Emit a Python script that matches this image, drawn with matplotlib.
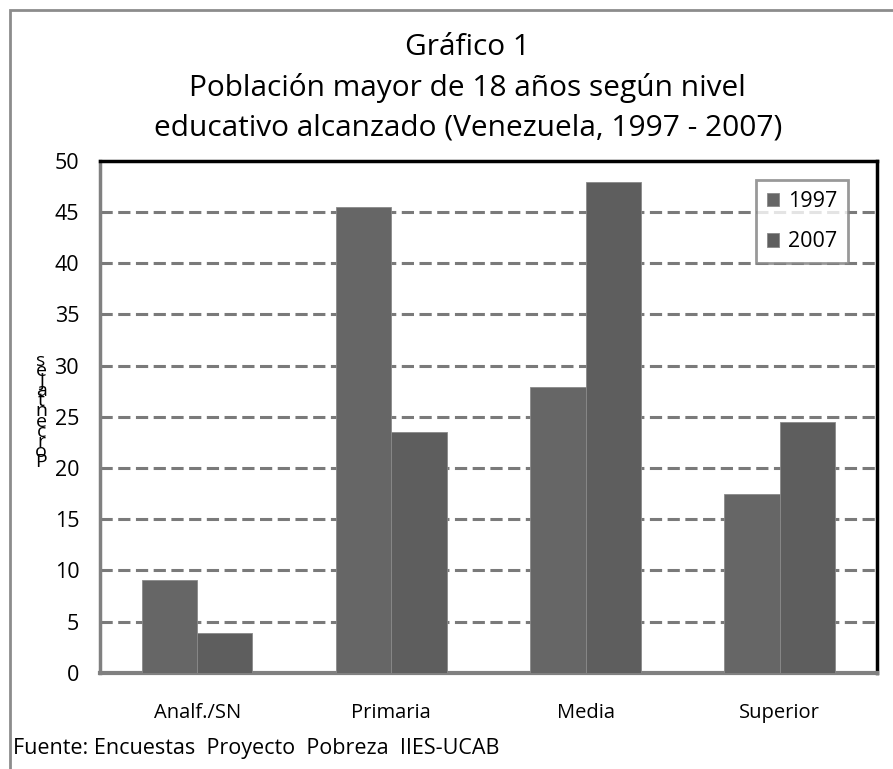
import matplotlib
matplotlib.use("Agg")
import matplotlib.pyplot as plt
import numpy as np
from matplotlib.patches import Rectangle

# data
categories = ["Analf./SN", "Primaria", "Media", "Superior"]
series_names = ["1997", "2007"]
values_1997 = [9.1, 45.5, 27.9, 17.5]
values_2007 = [3.9, 23.5, 47.9, 24.5]
yticks = [0, 5, 10, 15, 20, 25, 30, 35, 40, 45, 50]

plt.rcParams["font.family"] = ["Open Sans", "DejaVu Sans"]

fig = plt.figure(figsize=(8.93, 7.69), dpi=100)
ax = fig.add_axes([0.112, 0.125, 0.870, 0.666])

x = np.arange(len(categories))
w = 0.285
ax.bar(x - w / 2, values_1997, w, color="#666666", edgecolor="#8a8a8a", linewidth=0.6, label=series_names[0], zorder=3)
ax.bar(x + w / 2, values_2007, w, color="#5e5e5e", edgecolor="#8a8a8a", linewidth=0.6, label=series_names[1], zorder=3)

ax.set_xlim(-0.5, len(categories) - 0.5)
ax.set_ylim(0, 50)
ax.set_yticks(yticks)
ax.set_yticklabels([str(t) for t in yticks], fontsize=15.5)
ax.set_xticks(x)
ax.set_xticklabels(categories, fontsize=14.5)
ax.tick_params(axis="y", length=0, pad=15)
ax.tick_params(axis="x", length=0, pad=22)

for t in yticks[1:-1]:
    ax.axhline(t, color="#7a7a7a", linewidth=2.2, linestyle=(0, (4, 1.8)), zorder=1)

ax.spines["left"].set_color("#808080")
ax.spines["left"].set_linewidth(2.5)
ax.spines["bottom"].set_color("#808080")
ax.spines["bottom"].set_linewidth(3)
ax.spines["top"].set_color("black")
ax.spines["top"].set_linewidth(2.5)
ax.spines["right"].set_color("black")
ax.spines["right"].set_linewidth(2.5)

leg = ax.legend(loc="upper right", bbox_to_anchor=(0.963, 0.962), fontsize=15.5, frameon=True,
                fancybox=False, handlelength=0.6, handleheight=0.6, handletextpad=0.4,
                labelspacing=0.9, borderpad=0.5, borderaxespad=0)
leg.get_frame().set_edgecolor("#808080")
leg.get_frame().set_linewidth(2)

# title
title_lines = ["Gráfico 1", "Población mayor de 18 años según nivel",
               "educativo alcanzado (Venezuela, 1997 - 2007)"]
for i, line in enumerate(title_lines):
    fig.text(0.524, 0.938 - 0.052 * i, line, ha="center", va="center", fontsize=21.5)

# stacked y label
fig.text(0.046, 0.465, "\n".join(reversed("Porcentajes")), ha="center", va="center",
         fontsize=14, linespacing=0.44)

fig.text(0.014, 0.027, "Fuente: Encuestas  Proyecto  Pobreza  IIES-UCAB", ha="left", va="center", fontsize=15.5)

# frame around the whole picture (right and bottom edges fall outside)
fig.patches.append(Rectangle((0.011, -0.05), 1.2, 1.037, transform=fig.transFigure,
                             fill=False, edgecolor="#8c8c8c", linewidth=2))

fig.savefig("out.png", dpi=100)
